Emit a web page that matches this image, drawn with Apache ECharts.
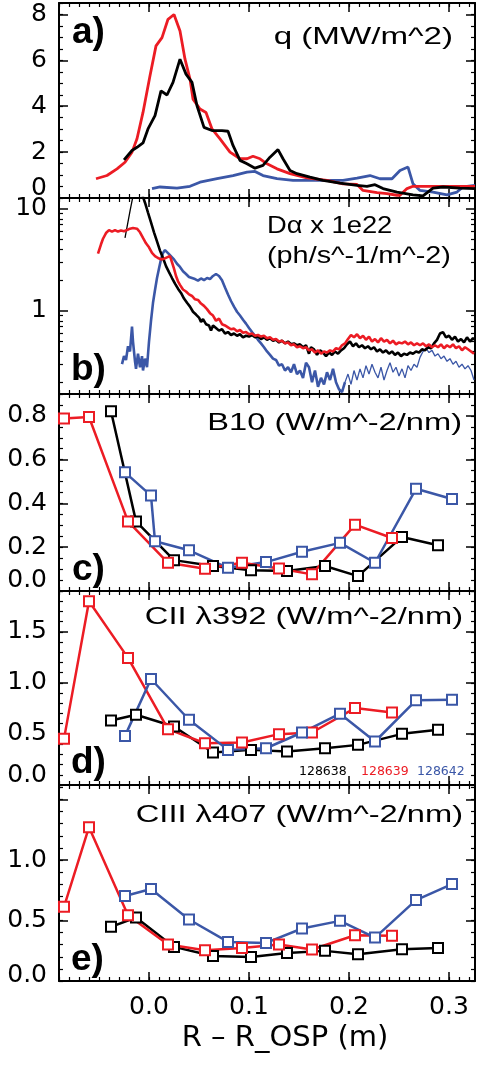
<!DOCTYPE html>
<html>
<head>
<meta charset="utf-8">
<script src="https://cdn.jsdelivr.net/npm/echarts@6/dist/echarts.min.js"></script>
<style>
  html, body { margin: 0; padding: 0; background: #fff; }
  #chart { width: 481px; height: 1067px; }
</style>
</head>
<body>
<div id="chart"></div>
<script>
const RED = '#ec1c24'
const BLUE = '#3b57a7'
const BLACK = '#000000'
const FONT = 'DejaVu Sans'
const TITLE_FONT = 'Liberation Sans'

// shots
const shots = ['128638', '128639', '128642']

// x axis (R - R_OSP, m)
const xMin = -0.09
const xMax = 0.326
const xTickLabels = [0.0, 0.1, 0.2, 0.3]

// a) heat flux q (MW/m^2)
const qBlack = [[-0.025,1.66],[-0.017,2.07],[-0.012,2.21],[-0.006,2.4],[-0.001,3.01],[0.006,3.59],[0.012,4.67],[0.018,4.49],[0.024,5.04],[0.031,6.05],[0.037,5.4],[0.043,5.04],[0.048,4.02],[0.055,3.08],[0.063,2.94],[0.073,2.94],[0.079,2.91],[0.084,2.29],[0.091,1.64],[0.098,1.49],[0.106,1.30],[0.114,1.42],[0.121,1.78],[0.129,2.11],[0.134,1.71],[0.141,1.2],[0.148,1.06],[0.161,0.91],[0.174,0.77],[0.191,0.65],[0.208,0.55],[0.218,0.51],[0.226,0.58],[0.234,0.41],[0.248,0.26],[0.264,0.14],[0.274,0.09],[0.284,0.43],[0.294,0.48],[0.311,0.43],[0.326,0.41]]
const qRed = [[-0.053,0.84],[-0.042,0.98],[-0.032,1.27],[-0.024,1.56],[-0.017,2.0],[-0.012,2.58],[-0.006,3.73],[0.001,5.33],[0.007,6.63],[0.013,6.99],[0.019,7.79],[0.025,8.0],[0.031,7.28],[0.036,6.05],[0.041,5.18],[0.044,4.31],[0.051,3.88],[0.057,3.73],[0.063,3.01],[0.071,2.58],[0.081,2.0],[0.091,1.71],[0.098,1.71],[0.104,1.82],[0.111,1.71],[0.118,1.49],[0.128,1.27],[0.141,1.06],[0.158,0.88],[0.178,0.77],[0.194,0.62],[0.208,0.59],[0.214,0.33],[0.228,0.23],[0.238,0.19],[0.248,0.12],[0.251,0.12],[0.258,0.41],[0.264,0.51],[0.284,0.51],[0.326,0.51]]
const qBlue = [[0.003,0.41],[0.011,0.48],[0.028,0.43],[0.041,0.51],[0.051,0.69],[0.068,0.84],[0.084,0.98],[0.098,1.13],[0.106,1.16],[0.114,0.98],[0.128,0.84],[0.144,0.77],[0.161,0.77],[0.178,0.77],[0.194,0.77],[0.208,0.87],[0.221,0.98],[0.231,0.84],[0.243,0.84],[0.251,1.2],[0.259,1.35],[0.264,0.62],[0.271,0.33],[0.284,0.26],[0.298,0.14],[0.308,0.26],[0.314,0.48],[0.326,0.55]]

// b) D-alpha x 1e22 (log)
const daBlackStart = [[-0.024,5.2],[-0.019,9.5],[-0.015,15]]
const daBlack = [[-0.015,15],[-0.008,15],[-0.004,11.5],[-0.001,9.2],[0.002,7.4],[0.005,5.9],[0.008,4.8],[0.011,3.9],[0.014,3.3],[0.017,2.75],[0.020,2.4],[0.023,2.1],[0.026,1.85],[0.029,1.65],[0.032,1.5],[0.035,1.32],[0.038,1.2],[0.041,1.1],[0.044,0.98],[0.047,0.92],[0.050,0.86],[0.052,0.78],[0.054,0.83],[0.057,0.74],[0.060,0.72],[0.062,0.64],[0.064,0.72],[0.067,0.68],[0.070,0.64],[0.073,0.66],[0.076,0.6],[0.079,0.62],[0.082,0.58],[0.085,0.6],[0.088,0.57],[0.091,0.59],[0.094,0.55],[0.097,0.57],[0.100,0.56],[0.103,0.58],[0.106,0.55],[0.109,0.56],[0.112,0.53],[0.115,0.55],[0.118,0.52],[0.121,0.54],[0.124,0.51],[0.127,0.52],[0.130,0.49],[0.133,0.51],[0.136,0.48],[0.139,0.5],[0.142,0.47],[0.145,0.48],[0.148,0.46],[0.151,0.47],[0.154,0.44],[0.157,0.46],[0.160,0.38],[0.162,0.44],[0.165,0.42],[0.168,0.37],[0.171,0.41],[0.174,0.39],[0.177,0.36],[0.180,0.39],[0.183,0.37],[0.186,0.4],[0.189,0.38],[0.192,0.41],[0.195,0.43],[0.198,0.47],[0.201,0.5],[0.204,0.45],[0.207,0.48],[0.210,0.44],[0.213,0.46],[0.216,0.43],[0.219,0.45],[0.222,0.42],[0.225,0.44],[0.228,0.4],[0.231,0.42],[0.234,0.39],[0.237,0.41],[0.240,0.38],[0.243,0.4],[0.246,0.37],[0.249,0.39],[0.252,0.36],[0.255,0.38],[0.258,0.37],[0.261,0.39],[0.264,0.38],[0.267,0.4],[0.270,0.39],[0.273,0.42],[0.276,0.41],[0.279,0.44],[0.282,0.43],[0.285,0.48],[0.288,0.52],[0.291,0.6],[0.294,0.62],[0.297,0.55],[0.300,0.57],[0.303,0.52],[0.306,0.56],[0.309,0.5],[0.312,0.53],[0.315,0.49],[0.318,0.55],[0.321,0.5],[0.324,0.54],[0.326,0.52]]
const daRed = [[-0.051,3.64],[-0.048,4.5],[-0.046,5.1],[-0.043,5.8],[-0.040,6.2],[-0.037,6.0],[-0.034,6.2],[-0.031,6.0],[-0.028,6.15],[-0.025,6.05],[-0.022,6.2],[-0.019,6.4],[-0.016,6.5],[-0.014,6.8],[-0.012,6.4],[-0.009,5.9],[-0.006,5.2],[-0.003,4.6],[0.000,4.2],[0.003,3.7],[0.006,3.45],[0.009,3.3],[0.012,3.2],[0.015,3.25],[0.018,3.35],[0.021,3.45],[0.023,3.0],[0.025,2.6],[0.027,2.2],[0.029,1.95],[0.031,1.8],[0.034,1.62],[0.037,1.55],[0.040,1.45],[0.043,1.4],[0.046,1.3],[0.049,1.28],[0.052,1.18],[0.055,1.12],[0.058,1.04],[0.061,0.95],[0.064,0.9],[0.067,0.8],[0.070,0.84],[0.073,0.74],[0.076,0.72],[0.079,0.69],[0.082,0.66],[0.085,0.67],[0.088,0.63],[0.091,0.65],[0.094,0.61],[0.097,0.62],[0.100,0.59],[0.103,0.6],[0.106,0.57],[0.109,0.58],[0.112,0.56],[0.115,0.57],[0.118,0.54],[0.121,0.55],[0.124,0.52],[0.127,0.53],[0.130,0.5],[0.133,0.51],[0.136,0.48],[0.139,0.49],[0.142,0.46],[0.145,0.47],[0.148,0.44],[0.151,0.45],[0.154,0.43],[0.157,0.44],[0.160,0.41],[0.163,0.42],[0.166,0.39],[0.169,0.41],[0.172,0.38],[0.175,0.4],[0.178,0.39],[0.181,0.41],[0.184,0.4],[0.187,0.43],[0.190,0.42],[0.193,0.46],[0.196,0.48],[0.199,0.53],[0.202,0.58],[0.205,0.55],[0.208,0.59],[0.211,0.54],[0.214,0.57],[0.217,0.52],[0.220,0.56],[0.223,0.5],[0.226,0.53],[0.229,0.49],[0.232,0.54],[0.235,0.5],[0.238,0.52],[0.241,0.48],[0.244,0.51],[0.247,0.47],[0.250,0.49],[0.253,0.48],[0.256,0.5],[0.259,0.47],[0.262,0.49],[0.265,0.46],[0.268,0.48],[0.271,0.46],[0.274,0.48],[0.277,0.45],[0.280,0.47],[0.283,0.44],[0.286,0.46],[0.289,0.44],[0.292,0.47],[0.295,0.43],[0.298,0.46],[0.301,0.44],[0.304,0.47],[0.307,0.43],[0.310,0.45],[0.313,0.41],[0.316,0.44],[0.319,0.42],[0.322,0.4],[0.325,0.38]]
const daBlue = [[-0.027,0.3],[-0.025,0.36],[-0.023,0.33],[-0.021,0.45],[-0.019,0.4],[-0.017,0.7],[-0.016,0.5],[-0.014,0.32],[-0.013,0.27],[-0.011,0.38],[-0.009,0.28],[-0.007,0.36],[-0.006,0.26],[-0.004,0.34],[-0.002,0.28],[0.000,0.5],[0.002,0.8],[0.004,1.2],[0.006,1.6],[0.008,2.1],[0.010,2.6],[0.012,3.2],[0.014,3.7],[0.016,3.95],[0.018,3.9],[0.020,3.6],[0.022,3.5],[0.025,3.2],[0.028,2.9],[0.031,2.7],[0.034,2.45],[0.037,2.3],[0.040,2.15],[0.043,2.1],[0.046,2.05],[0.049,1.98],[0.052,2.08],[0.055,2.0],[0.058,2.1],[0.061,2.05],[0.064,2.2],[0.067,2.3],[0.070,2.2],[0.073,2.0],[0.076,1.7],[0.079,1.45],[0.082,1.25],[0.085,1.1],[0.088,0.98],[0.091,0.9],[0.094,0.82],[0.097,0.75],[0.100,0.68],[0.103,0.62],[0.106,0.57],[0.109,0.52],[0.112,0.48],[0.115,0.44],[0.118,0.4],[0.121,0.37],[0.124,0.34],[0.127,0.33],[0.130,0.29],[0.133,0.3],[0.136,0.26],[0.139,0.28],[0.142,0.25],[0.145,0.3],[0.148,0.24],[0.151,0.26],[0.154,0.22],[0.157,0.31],[0.160,0.28],[0.163,0.2],[0.166,0.26],[0.169,0.18],[0.172,0.22],[0.175,0.19],[0.178,0.25],[0.181,0.21],[0.184,0.27],[0.187,0.2],[0.190,0.17],[0.193,0.16],[0.196,0.2]]
const daBlueTail = [[0.196,0.2],[0.199,0.24],[0.202,0.19],[0.205,0.26],[0.208,0.21],[0.211,0.27],[0.214,0.22],[0.217,0.29],[0.220,0.24],[0.223,0.3],[0.226,0.25],[0.229,0.22],[0.232,0.28],[0.235,0.21],[0.238,0.26],[0.241,0.31],[0.244,0.25],[0.247,0.28],[0.250,0.23],[0.253,0.27],[0.256,0.22],[0.259,0.29],[0.262,0.26],[0.265,0.3],[0.268,0.28],[0.271,0.35],[0.274,0.4],[0.277,0.43],[0.280,0.39],[0.283,0.41],[0.286,0.36],[0.289,0.38],[0.292,0.34],[0.295,0.36],[0.298,0.32],[0.301,0.34],[0.304,0.3],[0.307,0.32],[0.310,0.28],[0.313,0.3],[0.316,0.27],[0.319,0.29],[0.322,0.26],[0.325,0.21]]

// c) d) e) spectroscopy: probe positions and values
const xBlack = [-0.038, -0.013, 0.025, 0.064, 0.102, 0.138, 0.176, 0.209, 0.253, 0.289]
const xRed = [-0.085, -0.060, -0.021, 0.019, 0.056, 0.093, 0.130, 0.163, 0.206, 0.243]
const xBlue = [-0.024, 0.002, 0.040, 0.079, 0.117, 0.153, 0.191, 0.226, 0.267, 0.303]
const xBlueB10 = [-0.024, 0.002, 0.006, 0.040, 0.079, 0.117, 0.153, 0.191, 0.226, 0.267, 0.303]

const b10Black = [0.821, 0.318, 0.141, 0.114, 0.095, 0.091, 0.114, 0.068, 0.247, 0.209]
const b10Red = [0.788, 0.795, 0.318, 0.129, 0.102, 0.129, 0.103, 0.076, 0.303, 0.242]
const b10Blue = [0.542, 0.436, 0.227, 0.186, 0.106, 0.132, 0.179, 0.220, 0.129, 0.467, 0.420]

const ciiBlack = [0.632, 0.688, 0.573, 0.318, 0.344, 0.328, 0.360, 0.393, 0.501, 0.540]
const ciiRed = [0.452, 1.800, 1.245, 0.547, 0.409, 0.416, 0.498, 0.514, 0.753, 0.711]
const ciiBlue = [0.481, 1.038, 0.639, 0.344, 0.360, 0.514, 0.698, 0.426, 0.829, 0.835]

const ciiiBlack = [0.448, 0.525, 0.282, 0.207, 0.199, 0.232, 0.249, 0.221, 0.262, 0.273]
const ciiiRed = [0.613, 1.271, 0.544, 0.301, 0.254, 0.273, 0.301, 0.260, 0.378, 0.373]
const ciiiBlue = [0.702, 0.760, 0.508, 0.323, 0.315, 0.434, 0.497, 0.359, 0.669, 0.801]

// y tick values per panel
const yTicksA = [0, 2, 4, 6, 8]
const yTicksB = [1, 10]
const yMinorB = [0.2, 0.3, 0.4, 0.5, 0.6, 0.7, 0.8, 0.9, 2, 3, 4, 5, 6, 7, 8, 9]
const yTicksC = [0, 0.2, 0.4, 0.6, 0.8]
const yTicksD = [0, 0.5, 1.0, 1.5]
const yTicksE = [0, 0.5, 1.0]

function range(a, b, step) {
  const out = []
  for (let v = a; v <= b + 1e-9; v += step) out.push(+v.toFixed(4))
  return out
}
function zip(xs, ys) {
  return ys.map((y, i) => [xs[i], y])
}

// lift = how far the bottom tick label sits above its tick
const panels = [
  { top: 3, height: 195, type: 'value', min: 0, max: 8.5, ticks: yTicksA, minor: range(0, 8.5, 0.5), dec: 0, lift: 20 },
  { top: 198, height: 196, type: 'log', min: 0.153, max: 12.8, ticks: yTicksB, minor: yMinorB, dec: 0, lift: 0 },
  { top: 394, height: 197, type: 'value', min: 0, max: 0.9, ticks: yTicksC, minor: range(0, 0.9, 0.05), dec: 1, lift: 22 },
  { top: 591, height: 194, type: 'value', min: 0, max: 1.9, ticks: yTicksD, minor: range(0, 1.9, 0.1), dec: 1, lift: 20 },
  { top: 785, height: 196, type: 'value', min: 0, max: 1.62, ticks: yTicksE.concat([1.5]), labels: yTicksE, minor: range(0, 1.62, 0.1), dec: 1, lift: 12 }
]

const LABEL_SIZE = 25
const grids = []
const xAxes = []
const yAxes = []

panels.forEach((p, gi) => {
  grids.push({ left: 59, right: 6, top: p.top, height: p.height, containLabel: false })
  const isLast = gi === panels.length - 1
  const lineStyle = { color: BLACK, width: 2 }
  ;['bottom', 'top'].forEach((pos) => {
    xAxes.push({
      type: 'value', gridIndex: gi, position: pos, min: xMin, max: xMax,
      axisLine: { show: true, onZero: false, lineStyle },
      splitLine: { show: false },
      axisTick: { show: true, inside: true, length: 9, lineStyle: { color: BLACK, width: 1.5 }, customValues: xTickLabels },
      axisLabel: {
        show: isLast && pos === 'bottom', customValues: xTickLabels, margin: 14,
        formatter: (v) => v.toFixed(1), fontFamily: FONT, fontSize: LABEL_SIZE, color: BLACK
      },
      name: isLast && pos === 'bottom' ? 'R – R_OSP (m)' : '',
      nameLocation: 'middle', nameGap: 43,
      nameTextStyle: { fontFamily: FONT, fontSize: 29, color: BLACK, padding: [0, 0, 0, 36] }
    })
    xAxes.push({
      type: 'value', gridIndex: gi, position: pos, min: xMin, max: xMax,
      axisLine: { show: false, onZero: false },
      splitLine: { show: false },
      axisTick: { show: true, inside: true, length: 4, lineStyle: { color: BLACK, width: 1.2 }, customValues: range(-0.09, 0.32, 0.01) },
      axisLabel: { show: false }
    })
  })
  ;['left', 'right'].forEach((pos) => {
    const lbls = p.labels || p.ticks
    yAxes.push({
      type: p.type, logBase: 10, gridIndex: gi, position: pos, min: p.min, max: p.max,
      axisLine: { show: true, onZero: false, lineStyle },
      splitLine: { show: false },
      axisTick: { show: true, inside: true, length: 9, lineStyle: { color: BLACK, width: 1.5 }, customValues: p.ticks },
      axisLabel: {
        show: pos === 'left', customValues: lbls, margin: 12,
        fontFamily: FONT, fontSize: LABEL_SIZE, color: BLACK,
        formatter: (v) => {
          const s = v.toFixed(p.dec)
          return (p.type !== 'log' && v === p.min) ? '{lo|' + s + '}' : s
        },
        rich: { lo: { fontFamily: FONT, fontSize: LABEL_SIZE, color: BLACK, padding: [0, 0, p.lift, 0] } }
      }
    })
    yAxes.push({
      type: p.type, logBase: 10, gridIndex: gi, position: pos, min: p.min, max: p.max,
      axisLine: { show: false, onZero: false },
      splitLine: { show: false },
      axisTick: { show: true, inside: true, length: 4, lineStyle: { color: BLACK, width: 1.2 }, customValues: p.minor },
      axisLabel: { show: false }
    })
  })
})

function lineSeries(gi, data, color, width) {
  return {
    type: 'line', xAxisIndex: gi * 4, yAxisIndex: gi * 4, data,
    showSymbol: false, symbol: 'none', animation: false, clip: true,
    lineStyle: { color, width }, itemStyle: { color }
  }
}
function probeSeries(gi, data, color) {
  return {
    type: 'line', xAxisIndex: gi * 4, yAxisIndex: gi * 4, data,
    symbol: 'emptyRect', symbolSize: 10, showSymbol: true, animation: false,
    lineStyle: { color, width: 2.5 },
    itemStyle: { color, borderColor: color, borderWidth: 2.2 }
  }
}

const series = [
  lineSeries(0, qBlue, BLUE, 2.8),
  lineSeries(0, qRed, RED, 2.8),
  lineSeries(0, qBlack, BLACK, 2.8),
  lineSeries(1, daBlueTail, BLUE, 1.3),
  lineSeries(1, daBlue, BLUE, 2.6),
  lineSeries(1, daBlackStart, BLACK, 1.3),
  lineSeries(1, daBlack, BLACK, 2.6),
  lineSeries(1, daRed, RED, 2.6),
  probeSeries(2, zip(xBlack, b10Black), BLACK),
  probeSeries(2, zip(xBlueB10, b10Blue), BLUE),
  probeSeries(2, zip(xRed, b10Red), RED),
  probeSeries(3, zip(xBlack, ciiBlack), BLACK),
  probeSeries(3, zip(xRed, ciiRed), RED),
  probeSeries(3, zip(xBlue, ciiBlue), BLUE),
  probeSeries(4, zip(xBlack, ciiiBlack), BLACK),
  probeSeries(4, zip(xRed, ciiiRed), RED),
  probeSeries(4, zip(xBlue, ciiiBlue), BLUE)
]

function label(text, x, y, opts) {
  const o = opts || {}
  return {
    type: 'text', x, y, scaleX: o.scaleX || 1, z: 100,
    style: {
      text, fill: o.color || BLACK,
      fontFamily: o.family || TITLE_FONT, fontSize: o.size || 24, fontWeight: o.weight || 'normal',
      align: o.align || 'left', textAlign: o.align || 'left',
      verticalAlign: 'middle', textVerticalAlign: 'middle'
    }
  }
}

const panelLabel = { family: 'Liberation Sans', size: 37, weight: 'bold' }
const graphics = [
  label('a)', 72, 33, panelLabel),
  label('b)', 71, 370, panelLabel),
  label('c)', 72, 570, panelLabel),
  label('d)', 71, 763, panelLabel),
  label('e)', 71, 960, panelLabel),
  label('q (MW/m^2)', 453, 37, { align: 'right', scaleX: 1.38 }),
  label('Dα x 1e22', 267, 226, { scaleX: 1.14 }),
  label('(ph/s^-1/m^-2)', 267, 256, { scaleX: 1.2 }),
  label('B10 (W/m^-2/nm)', 462, 423, { align: 'right', scaleX: 1.36 }),
  label('CII λ392 (W/m^-2/nm)', 463, 617, { align: 'right', scaleX: 1.36 }),
  label('CIII λ407 (W/m^-2/nm)', 463, 815, { align: 'right', scaleX: 1.36 }),
  label(shots[0], 299, 772, { family: FONT, size: 12.5, color: BLACK }),
  label(shots[1], 361, 772, { family: FONT, size: 12.5, color: RED }),
  label(shots[2], 417, 772, { family: FONT, size: 12.5, color: BLUE })
]

const chart = echarts.init(document.getElementById('chart'), null, { renderer: 'canvas' })
chart.setOption({
  backgroundColor: '#fff',
  animation: false,
  grid: grids,
  xAxis: xAxes,
  yAxis: yAxes,
  series,
  graphic: graphics
})
</script>
</body>
</html>
